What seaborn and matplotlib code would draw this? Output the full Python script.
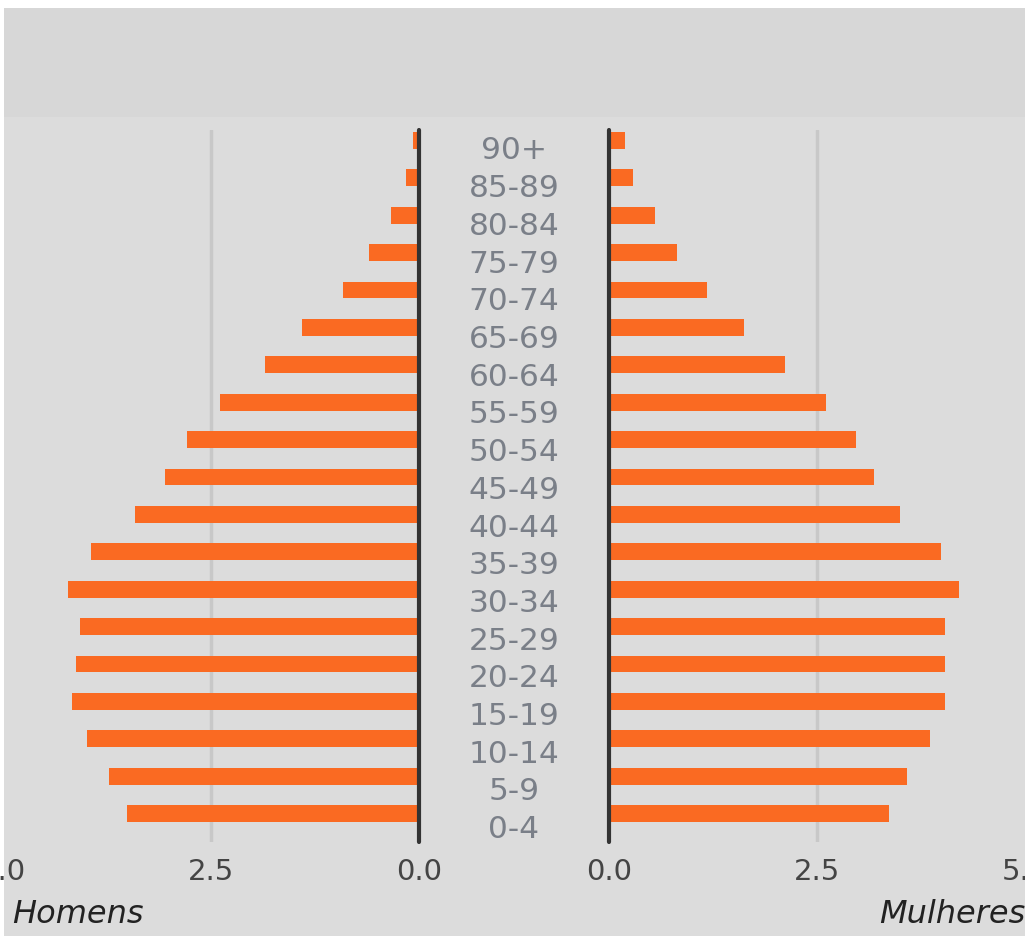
import matplotlib
matplotlib.use("Agg")
import matplotlib.pyplot as plt
from matplotlib.patches import Rectangle
import pandas as pd
import seaborn as sns

# age groups, top of the pyramid first
age_groups = ["90+", "85-89", "80-84", "75-79", "70-74", "65-69", "60-64",
              "55-59", "50-54", "45-49", "40-44", "35-39", "30-34", "25-29",
              "20-24", "15-19", "10-14", "5-9", "0-4"]
homens = [0.07, 0.16, 0.34, 0.60, 0.91, 1.41, 1.85, 2.39, 2.79, 3.05, 3.41,
          3.94, 4.22, 4.08, 4.12, 4.17, 3.99, 3.73, 3.51]
mulheres = [0.19, 0.29, 0.55, 0.82, 1.18, 1.62, 2.12, 2.61, 2.97, 3.19, 3.50,
            3.99, 4.21, 4.04, 4.04, 4.04, 3.86, 3.58, 3.37]
x_ticks = [0, 2.5, 5.0]

BG = "#dcdcdc"
BAND = "#d7d7d7"
BAR = "#fa6a22"
ZERO = "#333333"
GRID = "#c8c8c8"

sns.set_style("white")
plt.rcParams["font.family"] = ["DejaVu Sans"]

W, H = 1025, 937
fig = plt.figure(figsize=(W / 100, H / 100), dpi=100)
fig.patch.set_facecolor("white")
# gray canvas, darker title band, thin white margin at top/left
fig.patches.append(Rectangle((4 / W, 0), 1, 1 - 9 / H, transform=fig.transFigure,
                             facecolor=BG, edgecolor="none", zorder=-2))
fig.patches.append(Rectangle((4 / W, 1 - 118 / H), 1, (118 - 9) / H,
                             transform=fig.transFigure, facecolor=BAND,
                             edgecolor="none", zorder=-1))

top, bottom = 131, 843
ax_b = 1 - bottom / H
ax_h = (bottom - top) / H
ax_l = fig.add_axes([3 / W, ax_b, 416 / W, ax_h])
ax_r = fig.add_axes([609 / W, ax_b, 416 / W, ax_h])
ax_m = fig.add_axes([419 / W, ax_b, 190 / W, ax_h])

df_h = pd.DataFrame({"idade": age_groups, "valor": homens})
df_m = pd.DataFrame({"idade": age_groups, "valor": mulheres})

for ax, df in [(ax_l, df_h), (ax_r, df_m)]:
    ax.set_facecolor("none")
    sns.barplot(data=df, x="valor", y="idade", orient="h", order=age_groups,
                color=BAR, saturation=1, width=0.45, linewidth=0, ax=ax)
    ax.axvline(2.5, color=GRID, lw=2.5, zorder=0)
    ax.axvline(0, color=ZERO, lw=3, zorder=3, clip_on=False)
    ax.set_ylim(18.76, -0.28)
    ax.set_xticks(x_ticks)
    ax.set_xticklabels(["0.0", "2.5", "5.0"])
    ax.tick_params(axis="x", length=0, pad=11, labelsize=21, labelcolor="#444444")
    ax.set_yticks([])
    ax.set_xlabel("")
    ax.set_ylabel("")
    for s in ax.spines.values():
        s.set_visible(False)

ax_l.set_xlim(5, 0)
ax_r.set_xlim(0, 5)

# age labels in the middle column
ax_m.set_xlim(0, 1)
ax_m.set_ylim(18.355, -0.53)
ax_m.axis("off")
for i, lab in enumerate(age_groups):
    ax_m.text(0.5, i, lab, ha="center", va="center", fontsize=22.5,
              color="#7a7f88")

fig.text(12 / W, 1 - 915 / H, "Homens", ha="left", va="center",
         fontsize=23, style="italic", color="#222222")
fig.text(1025 / W, 1 - 915 / H, "Mulheres", ha="right", va="center",
         fontsize=23, style="italic", color="#222222")

fig.savefig("out.png", dpi=100, facecolor=fig.get_facecolor())
